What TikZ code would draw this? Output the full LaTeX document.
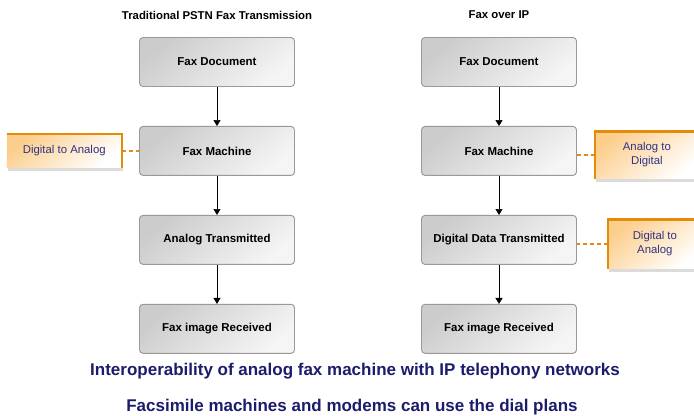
\documentclass[tikz,border=0pt]{standalone}
\usepackage{fontspec}
\setmainfont{Liberation Sans}
\usetikzlibrary{positioning,arrows.meta,shadows}
\definecolor{noteorange}{RGB}{229,138,10}
\definecolor{notefill}{RGB}{252,206,140}
\definecolor{notetext}{RGB}{50,50,130}
\definecolor{captext}{RGB}{28,28,108}

\begin{document}
\begin{tikzpicture}[
  stepbox/.style={draw=black!40, line width=0.8pt, rounded corners=3pt, top color=black!20, bottom color=black!4, shading angle=40, minimum width=4.65cm, minimum height=1.47cm, align=center, font=\fontsize{9.8}{12}\selectfont\bfseries},
  head/.style={font=\fontsize{9.7}{12}\selectfont\bfseries},
  note/.style={top color=notefill, bottom color=white, shading angle=40, align=center, text=notetext, font=\fontsize{9.7}{12}\selectfont, drop shadow={shadow xshift=1pt, shadow yshift=-3pt, fill=black!14, opacity=1}},
  rim/.style={draw=noteorange, line width=2.5pt},
  link/.style={draw=noteorange, line width=1.6pt, dash pattern=on 3.4pt off 2.6pt},
  caption/.style={font=\fontsize{14.5}{17}\selectfont\bfseries, text=captext},
  >={Triangle[length=5pt,width=6pt]}, node distance=1.17cm]
  \useasboundingbox (0,0) rectangle (20.82,-12.48);
  % traditional PSTN column
  \node[head] (ltitle) at (6.51,-0.45) {Traditional PSTN Fax Transmission};
  \node[stepbox] (ldoc) at (6.51,-1.86) {Fax Document};
  \node[stepbox, below=of ldoc] (lmac) {Fax Machine};
  \node[stepbox, below=of lmac] (lana) {Analog Transmitted};
  \node[stepbox, below=of lana] (lrec) {Fax image Received};
  % fax over IP column
  \node[head] (rtitle) at (14.97,-0.45) {Fax over IP};
  \node[stepbox] (rdoc) at (14.97,-1.86) {Fax Document};
  \node[stepbox, below=of rdoc] (rmac) {Fax Machine};
  \node[stepbox, below=of rmac] (rdat) {Digital Data Transmitted};
  \node[stepbox, below=of rdat] (rrec) {Fax image Received};
  % callouts
  \node[note, minimum width=3.45cm, minimum height=1.0cm, left=0.51cm of lmac] (lnote) {Digital to Analog};
  \node[note, minimum width=3.1cm, minimum height=1.41cm, right=0.54cm of rmac, yshift=-0.12cm] (rnote1) {Analog to\\Digital};
  \node[note, minimum width=2.8cm, minimum height=1.47cm, right=0.93cm of rdat, yshift=-0.12cm] (rnote2) {Digital to\\Analog};
  \draw[rim] (lnote.north west) -- (lnote.north east) -- (lnote.south east);
  \draw[rim] (rnote1.south west) -- (rnote1.north west) -- (rnote1.north east);
  \draw[rim] (rnote2.south west) -- (rnote2.north west) -- (rnote2.north east);
  \draw[link] (lnote.east) -- (lmac.west);
  \draw[link] (rnote1.west) -- (rnote1.west -| rmac.east);
  \draw[link] (rnote2.west) -- (rnote2.west -| rdat.east);
  % flow arrows
  \draw[->] (ldoc) -- (lmac);
  \draw[->] (lmac) -- (lana);
  \draw[->] (lana) -- (lrec);
  \draw[->] (rdoc) -- (rmac);
  \draw[->] (rmac) -- (rdat);
  \draw[->] (rdat) -- (rrec);
  % captions
  \node[caption] (cap1) at (10.65,-11.12) {Interoperability of analog fax machine with IP telephony networks};
  \node[caption] (cap2) at (10.56,-12.21) {Facsimile machines and modems can use the dial plans};
\end{tikzpicture}
\end{document}
